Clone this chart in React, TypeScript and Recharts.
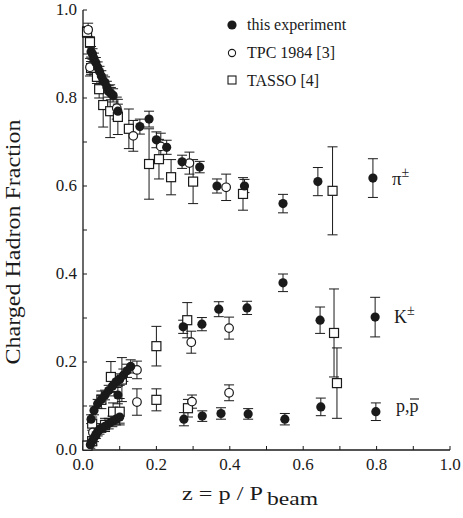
import { ScatterChart, Scatter, XAxis, YAxis, ErrorBar } from 'recharts';

// [z, fraction, error]
const PION_EXP: number[][] = [
  [0.022, 0.905, 0.012], [0.026, 0.9, 0.012], [0.03, 0.89, 0.012], [0.035, 0.88, 0.012],
  [0.04, 0.87, 0.012], [0.045, 0.86, 0.012], [0.05, 0.85, 0.012], [0.055, 0.84, 0.012],
  [0.06, 0.835, 0.013], [0.065, 0.825, 0.013], [0.07, 0.815, 0.013], [0.076, 0.81, 0.014],
  [0.082, 0.806, 0.015], [0.095, 0.77, 0.016], [0.155, 0.735, 0.017], [0.18, 0.752, 0.018],
  [0.2, 0.705, 0.018], [0.228, 0.688, 0.016], [0.27, 0.655, 0.015], [0.318, 0.643, 0.013],
  [0.365, 0.6, 0.016], [0.44, 0.6, 0.015], [0.545, 0.56, 0.021], [0.64, 0.61, 0.032],
  [0.79, 0.618, 0.044],
];
const KAON_EXP: number[][] = [
  [0.022, 0.07, 0.01], [0.03, 0.09, 0.01], [0.04, 0.105, 0.01], [0.05, 0.115, 0.01],
  [0.06, 0.125, 0.011], [0.07, 0.135, 0.012], [0.08, 0.145, 0.012], [0.09, 0.155, 0.013],
  [0.095, 0.125, 0.02], [0.1, 0.16, 0.013], [0.11, 0.17, 0.014], [0.12, 0.18, 0.015],
  [0.13, 0.19, 0.015], [0.273, 0.28, 0.015], [0.324, 0.286, 0.015], [0.37, 0.32, 0.017],
  [0.447, 0.323, 0.015], [0.545, 0.38, 0.02], [0.646, 0.295, 0.03], [0.796, 0.302, 0.045],
];
const PROTON_EXP: number[][] = [
  [0.02, 0.012, 0.008], [0.025, 0.02, 0.008], [0.03, 0.028, 0.009], [0.035, 0.035, 0.009],
  [0.04, 0.042, 0.01], [0.045, 0.046, 0.01], [0.05, 0.05, 0.01], [0.06, 0.054, 0.011],
  [0.07, 0.06, 0.012], [0.08, 0.065, 0.012], [0.09, 0.07, 0.013], [0.1, 0.075, 0.014],
  [0.275, 0.07, 0.015], [0.325, 0.077, 0.012], [0.376, 0.083, 0.013], [0.45, 0.082, 0.012],
  [0.55, 0.07, 0.013], [0.648, 0.098, 0.02], [0.798, 0.087, 0.02],
];

const PION_TPC: number[][] = [
  [0.014, 0.955, 0.015], [0.019, 0.87, 0.02], [0.092, 0.777, 0.025], [0.137, 0.714, 0.035],
  [0.212, 0.69, 0.03], [0.29, 0.652, 0.025], [0.39, 0.597, 0.03],
];
const KAON_TPC: number[][] = [
  [0.027, 0.04, 0.012], [0.147, 0.182, 0.02], [0.295, 0.245, 0.025], [0.398, 0.277, 0.025],
];
const PROTON_TPC: number[][] = [
  [0.147, 0.109, 0.03], [0.297, 0.11, 0.015], [0.398, 0.13, 0.018],
];

const PION_TASSO: number[][] = [
  [0.011, 0.95, 0.012], [0.019, 0.927, 0.012], [0.022, 0.868, 0.015], [0.038, 0.848, 0.015],
  [0.044, 0.82, 0.02], [0.055, 0.784, 0.05], [0.074, 0.77, 0.06], [0.095, 0.757, 0.04],
  [0.125, 0.73, 0.045], [0.18, 0.65, 0.08], [0.207, 0.661, 0.045], [0.24, 0.62, 0.04],
  [0.3, 0.61, 0.05], [0.436, 0.582, 0.037], [0.68, 0.589, 0.1],
];
const KAON_TASSO: number[][] = [
  [0.05, 0.114, 0.02], [0.076, 0.166, 0.035], [0.106, 0.16, 0.05], [0.2, 0.236, 0.045],
  [0.284, 0.295, 0.04], [0.684, 0.266, 0.1],
];
const PROTON_TASSO: number[][] = [
  [0.012, 0.01, 0.01], [0.025, 0.02, 0.01], [0.033, 0.04, 0.012], [0.025, 0.06, 0.015],
  [0.06, 0.057, 0.015], [0.082, 0.087, 0.02], [0.1, 0.087, 0.03], [0.2, 0.114, 0.025],
  [0.286, 0.095, 0.02], [0.692, 0.152, 0.08],
];

const X_TICKS = [0, 0.1, 0.2, 0.3, 0.4, 0.5, 0.6, 0.7, 0.8, 0.9, 1.0];
const Y_TICKS = [0, 0.1, 0.2, 0.3, 0.4, 0.5, 0.6, 0.7, 0.8, 0.9, 1.0];

const toRows = (...sets: number[][][]) =>
  sets.flat().map(([z, f, err]) => ({ z, f, err }));

const expData = toRows(PION_EXP, KAON_EXP, PROTON_EXP);
const tpcData = toRows(PION_TPC, KAON_TPC, PROTON_TPC);
const tassoData = toRows(PION_TASSO, KAON_TASSO, PROTON_TASSO);

const FONT = '"Liberation Serif", "DejaVu Serif", serif';
const INK = '#1a1a1a';

const isMajor = (v: number) => Math.round(v * 10) % 2 === 0;

const XTick = ({ x, y, payload }: any) =>
  isMajor(payload.value) ? (
    <text x={x} y={y} dy={16} textAnchor="middle" fontFamily={FONT} fontSize={17} fill={INK}>
      {payload.value.toFixed(1)}
    </text>
  ) : <g />;

const YTick = ({ x, y, payload }: any) =>
  isMajor(payload.value) ? (
    <text x={x} y={y} dy={5} textAnchor="end" fontFamily={FONT} fontSize={17} fill={INK}>
      {payload.value.toFixed(1)}
    </text>
  ) : <g />;

const Empty = () => <g />;

const Filled = ({ cx, cy }: any) => <circle cx={cx} cy={cy} r={4.6} fill={INK} />;
const Open = ({ cx, cy }: any) => (
  <circle cx={cx} cy={cy} r={4.3} fill="#fff" stroke={INK} strokeWidth={1.2} />
);
const Square = ({ cx, cy }: any) => (
  <rect x={cx - 4.5} y={cy - 4.5} width={9} height={9} fill="#fff" stroke={INK} strokeWidth={1.2} />
);

export default function App() {
  return (
    <div style={{ position: 'absolute', left: 0, top: 0, width: 463, height: 518, background: '#fff' }}>
      <ScatterChart width={463} height={518} margin={{ top: 10, right: 13, bottom: 0, left: 0 }}>
        <XAxis
          type="number"
          dataKey="z"
          domain={[0, 1]}
          ticks={X_TICKS}
          height={68}
          tickSize={-4}
          tickMargin={8}
          tick={XTick}
          axisLine={{ stroke: INK, strokeWidth: 1.3 }}
          tickLine={{ stroke: INK }}
        />
        <XAxis
          xAxisId="top"
          orientation="top"
          type="number"
          domain={[0, 1]}
          ticks={X_TICKS}
          height={0}
          tickSize={-4}
          tick={Empty}
          axisLine={{ stroke: INK, strokeWidth: 1.3 }}
          tickLine={{ stroke: INK }}
        />
        <YAxis
          type="number"
          dataKey="f"
          domain={[0, 1]}
          ticks={Y_TICKS}
          width={83}
          tickSize={-4}
          tickMargin={10}
          tick={YTick}
          axisLine={{ stroke: INK, strokeWidth: 1.3 }}
          tickLine={{ stroke: INK }}
        />
        <YAxis
          yAxisId="right"
          orientation="right"
          type="number"
          domain={[0, 1]}
          ticks={Y_TICKS}
          width={0}
          tickSize={-4}
          tick={Empty}
          axisLine={{ stroke: INK, strokeWidth: 1.3 }}
          tickLine={{ stroke: INK }}
        />
        <Scatter name="TASSO [4]" data={tassoData} shape={Square} isAnimationActive={false}>
          <ErrorBar dataKey="err" direction="y" width={5} stroke={INK} strokeWidth={1} />
        </Scatter>
        <Scatter name="TPC 1984 [3]" data={tpcData} shape={Open} isAnimationActive={false}>
          <ErrorBar dataKey="err" direction="y" width={5} stroke={INK} strokeWidth={1} />
        </Scatter>
        <Scatter name="this experiment" data={expData} shape={Filled} isAnimationActive={false}>
          <ErrorBar dataKey="err" direction="y" width={5} stroke={INK} strokeWidth={1} />
        </Scatter>
      </ScatterChart>

      {/* legend, labels and axis titles */}
      <svg
        width={463}
        height={518}
        style={{ position: 'absolute', left: 0, top: 0, pointerEvents: 'none' }}
        fontFamily={FONT}
        fill={INK}
      >
        <circle cx={232} cy={25} r={4.6} fill={INK} />
        <text x={247} y={30} fontSize={16}>this experiment</text>
        <circle cx={232} cy={53} r={3.6} fill="#fff" stroke={INK} strokeWidth={1.1} />
        <text x={247} y={58} fontSize={16}>TPC 1984 [3]</text>
        <rect x={228} y={76} width={8} height={8} fill="#fff" stroke={INK} strokeWidth={1.1} />
        <text x={247} y={86} fontSize={16}>TASSO [4]</text>

        <text x={392} y={185} fontSize={19}>
          π<tspan dy={-8} fontSize={14}>±</tspan>
        </text>
        <text x={394} y={323} fontSize={18}>
          K<tspan dy={-8} fontSize={14}>±</tspan>
        </text>
        <text x={396} y={412} fontSize={18}>p,p</text>
        <line x1={410} x2={419} y1={399} y2={399} stroke={INK} strokeWidth={1.1} />

        <text
          x={20}
          y={242}
          fontSize={20}
          textAnchor="middle"
          transform="rotate(-90 20 242)"
          textLength={245}
          lengthAdjust="spacingAndGlyphs"
        >
          Charged Hadron Fraction
        </text>
        <text x={182} y={500} fontSize={19} textLength={81} lengthAdjust="spacingAndGlyphs">
          z = p / P
        </text>
        <text x={267} y={505} fontSize={19} textLength={51} lengthAdjust="spacingAndGlyphs">
          beam
        </text>
      </svg>
    </div>
  );
}
